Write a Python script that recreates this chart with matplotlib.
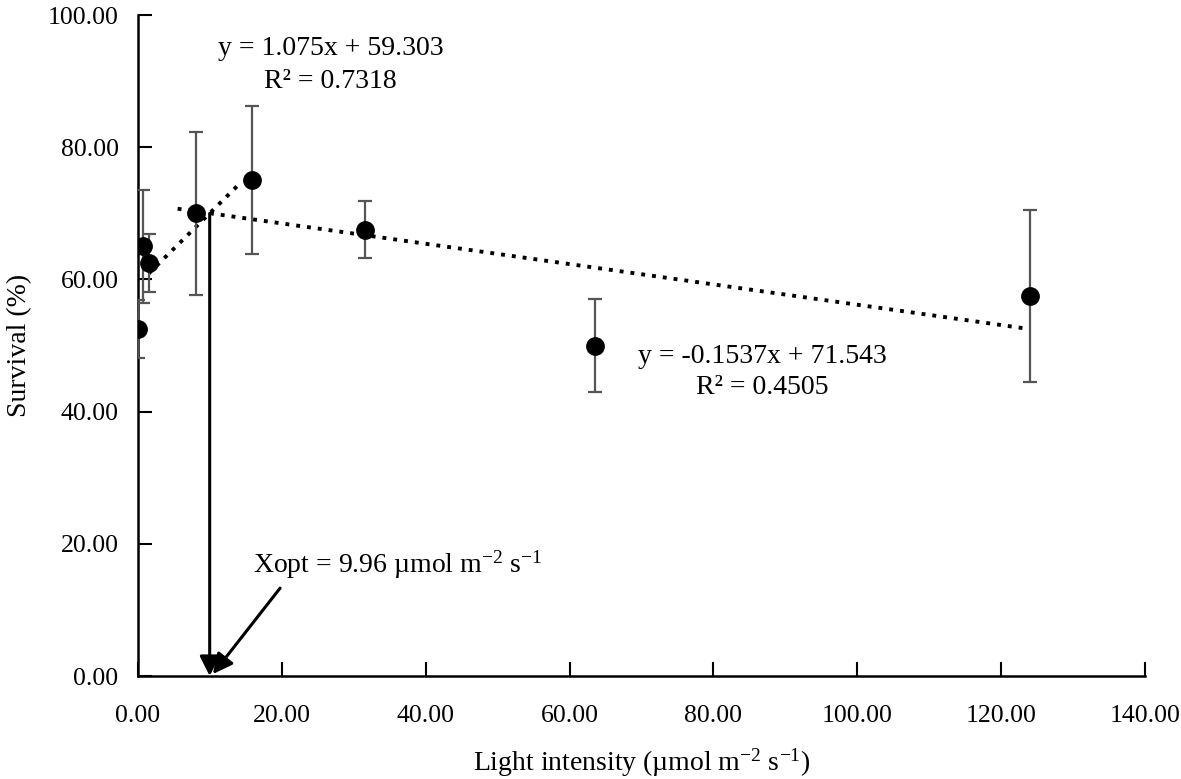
import numpy as np
import matplotlib
matplotlib.use("Agg")
import matplotlib.pyplot as plt

plt.rcParams['font.family'] = ['Liberation Serif', 'DejaVu Serif']
plt.rcParams['mathtext.default'] = 'regular'

# ===== data =====
light = [0.0, 0.7, 1.5, 8.0, 15.8, 31.5, 63.5, 124.0]
survival = [52.5, 65.0, 62.5, 70.0, 75.0, 67.5, 50.0, 57.5]
err = [4.4, 8.6, 4.4, 12.3, 11.2, 4.3, 7.0, 13.0]

# trendlines (slope, intercept, x range)
fit1 = (1.075, 59.303, 1.5, 14.2)
fit2 = (-0.1537, 71.543, 5.5, 124.0)
r2_1 = 0.7318
r2_2 = 0.4505
xopt = 9.96

x_ticks = np.arange(0, 141, 20)
y_ticks = np.arange(0, 101, 20)

fig = plt.figure(figsize=(11.81, 7.79), dpi=100)
ax = fig.add_axes([0.1169, 0.1322, 0.8526, 0.8485])

# trendlines
for slope, icpt, x0, x1 in (fit1, fit2):
    xl = np.array([x0, x1])
    ax.plot(xl, slope * xl + icpt, color='black', linestyle=(0, (1, 1.8)),
            linewidth=2.8, zorder=2)

# points with error bars
ax.errorbar(light, survival, yerr=err, fmt='o', color='black', markersize=12.5,
            ecolor='#555555', elinewidth=1.6, capsize=4.7, capthick=1.6, zorder=3)

# vertical arrow at Xopt
ax.annotate('', xy=(xopt, 0), xytext=(xopt, 70),
            arrowprops=dict(arrowstyle='-|>', color='black', lw=2.2,
                            mutation_scale=30, shrinkA=0, shrinkB=0))
# diagonal arrow from label
ax.annotate('', xy=(10.4, 0.3), xytext=(19.75, 13.3),
            arrowprops=dict(arrowstyle='-|>', color='black', lw=2.2,
                            mutation_scale=30, shrinkA=0, shrinkB=0))
ax.text(16.0, 16.8, 'Xopt = %.2f µmol m$^{-2}$ s$^{-1}$' % xopt, fontsize=20,
        ha='left', va='center')

# equations
ax.text(26.8, 95.0, 'y = %.3fx + %.3f' % (fit1[0], fit1[1]), fontsize=20,
        ha='center', va='center')
ax.text(26.8, 89.9, 'R² = %.4f' % r2_1, fontsize=20, ha='center', va='center')
ax.text(86.8, 48.3, 'y = %.4fx + %.3f' % (fit2[0], fit2[1]), fontsize=20,
        ha='center', va='center')
ax.text(86.8, 43.6, 'R² = %.4f' % r2_2, fontsize=20, ha='center', va='center')

ax.set_xlim(0, 140)
ax.set_ylim(0, 100)
ax.set_xticks(x_ticks)
ax.set_yticks(y_ticks)
ax.set_xticklabels(['%.2f' % v for v in x_ticks])
ax.set_yticklabels(['%.2f' % v for v in y_ticks])
ax.tick_params(direction='in', length=10, width=1.5, labelsize=18.5)
ax.tick_params(axis='x', pad=21)
ax.tick_params(axis='y', pad=14)
ax.spines['top'].set_visible(False)
ax.spines['right'].set_visible(False)
for s in ('left', 'bottom'):
    ax.spines[s].set_linewidth(1.8)

ax.set_xlabel('Light intensity (µmol m$^{-2}$ s$^{-1}$)', fontsize=20, labelpad=14)
ax.set_ylabel('Survival (%)', fontsize=20, labelpad=11)

fig.savefig('out.png', dpi=100)
